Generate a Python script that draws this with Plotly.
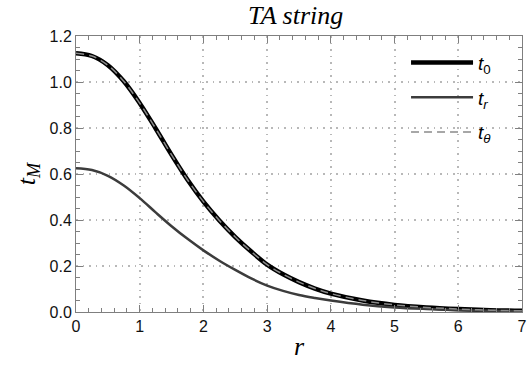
import plotly.graph_objects as go

# radial coordinate
r = [0, 0.25, 0.5, 0.75, 1.0, 1.25, 1.5, 1.75, 2.0, 2.25, 2.5, 2.75, 3.0,
     3.25, 3.5, 3.75, 4.0, 4.5, 5.0, 5.5, 6.0, 6.5, 7.0]

t_0 = [1.125, 1.113, 1.073, 1.003, 0.908, 0.798, 0.683, 0.575, 0.480, 0.398,
       0.326, 0.263, 0.206, 0.164, 0.130, 0.102, 0.080, 0.050, 0.031, 0.020,
       0.013, 0.008, 0.005]

t_r = [0.625, 0.617, 0.592, 0.550, 0.495, 0.433, 0.373, 0.318, 0.268, 0.223,
       0.183, 0.146, 0.115, 0.092, 0.074, 0.061, 0.050, 0.032, 0.020, 0.013,
       0.008, 0.005, 0.003]

t_theta = [1.125, 1.113, 1.073, 1.003, 0.908, 0.798, 0.683, 0.575, 0.480, 0.398,
           0.326, 0.263, 0.206, 0.164, 0.130, 0.102, 0.080, 0.050, 0.031, 0.020,
           0.013, 0.008, 0.005]

x_ticks = [0, 1, 2, 3, 4, 5, 6, 7]
y_ticks = [0.0, 0.2, 0.4, 0.6, 0.8, 1.0, 1.2]

serif = "Liberation Serif, DejaVu Serif, serif"
sans = "Liberation Sans, Arial, sans-serif"

fig = go.Figure()

fig.add_trace(go.Scatter(x=r, y=t_0, mode="lines", name="<i>t</i><sub>0</sub>", legendgroup="a",
                         line=dict(color="black", width=4.5, shape="spline")))
fig.add_trace(go.Scatter(x=r, y=t_r, mode="lines", name="<i>t<sub>r</sub></i>", legendgroup="b",
                         line=dict(color="#3c3c3c", width=2.5, shape="spline")))
fig.add_trace(go.Scatter(x=r, y=t_theta, mode="lines", name="<i>t<sub>θ</sub></i>", legendgroup="c",
                         line=dict(color="#8a8a8a", width=1.5, dash="8px,5px", shape="spline")))

axis_common = dict(showline=True, linecolor="#7f7f7f", linewidth=1, mirror="ticks",
                   ticks="inside", ticklen=7, tickcolor="#7f7f7f",
                   showgrid=True, gridcolor="#b8b8b8", griddash="1.5px,5px", gridwidth=1.5,
                   zeroline=False, automargin=False,
                   tickfont=dict(family=sans, size=16, color="#111"))

fig.update_xaxes(range=[0, 7], tickvals=x_ticks, **axis_common,
                 minor=dict(ticks="inside", ticklen=4, dtick=0.2, tickcolor="#7f7f7f", showgrid=False),
                 title=dict(text="<i>r</i>", font=dict(family=serif, size=26, color="black"), standoff=2))
fig.update_yaxes(range=[0, 1.2], tickvals=y_ticks, tickformat=".1f", **axis_common,
                 minor=dict(ticks="inside", ticklen=4, dtick=0.05, tickcolor="#7f7f7f", showgrid=False),
                 title=dict(text="<i>t<sub>M</sub></i>", font=dict(family=serif, size=26, color="black"), standoff=6))

fig.update_layout(
    width=528, height=374,
    margin=dict(l=76, r=6, t=36, b=62, autoexpand=False),
    plot_bgcolor="white", paper_bgcolor="white",
    title=dict(text="<i>TA string</i>", x=0.56, xanchor="center", y=0.96, yanchor="middle",
               font=dict(family=serif, size=26, color="black")),
    legend=dict(x=0.740, y=0.972, xanchor="left", yanchor="top", bgcolor="rgba(0,0,0,0)",
                font=dict(family=sans, size=19, color="black"), itemwidth=62,
                tracegroupgap=7),
    showlegend=True,
)

# drop the default body margin so the figure sits at the page corner
fig.write_html("out.html", config={"displayModeBar": False},
               post_script="document.body.style.margin='0px';")
